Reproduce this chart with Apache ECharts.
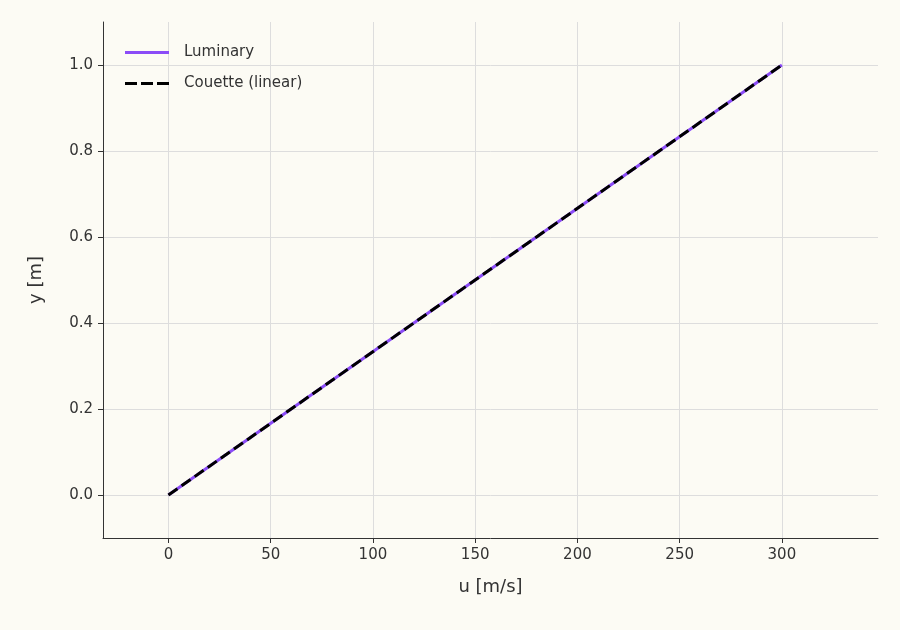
<!DOCTYPE html>
<html><head><meta charset="utf-8">
<script src="https://cdn.jsdelivr.net/npm/echarts@6/dist/echarts.min.js"></script>
<style>html,body{margin:0;background:#fcfbf4}#c{width:900px;height:630px}</style>
</head><body><div id="c"></div>
<script>
const yVals = [0,0.1,0.2,0.3,0.4,0.5,0.6,0.7,0.8,0.9,1.0];
const luminaryU = [0,30,60,90,120,150,180,210,240,270,300];
const couetteU = [0,30,60,90,120,150,180,210,240,270,300];
const xTicks = [0,50,100,150,200,250,300];
const yTicks = [0,0.2,0.4,0.6,0.8,1.0];
const F = 'DejaVu Sans';
const gridStyle = {color:'#dddddd', width:1, type:'solid'};
const marks = xTicks.map(v=>({xAxis:v})).concat(yTicks.map(v=>({yAxis:v})));
const chart = echarts.init(document.getElementById('c'));
chart.setOption({
  backgroundColor:'#fcfbf4',
  animation:false,
  grid:{left:103,right:22,top:22,bottom:92},
  legend:{left:120,top:40,orient:'vertical',itemWidth:44,itemHeight:10,itemGap:16,
    textStyle:{fontFamily:F,fontSize:15,color:'#333',padding:[0,0,0,10]},
    data:[{name:'Luminary',icon:'path://M0,4h44v3H0z'},{name:'Couette (linear)',icon:'path://M0,4h12v3H0zM16,4h12v3H16zM32,4h12v3H32z'}]},
  xAxis:{type:'value',min:-32,max:347,name:'u [m/s]',nameLocation:'middle',nameGap:40,
    nameTextStyle:{fontFamily:F,fontSize:18,color:'#333'},
    axisLine:{show:true,onZero:false,lineStyle:{color:'#333'}},
    axisTick:{show:true,customValues:xTicks,length:5,lineStyle:{color:'#333'}},
    axisLabel:{customValues:xTicks,fontFamily:F,fontSize:15,color:'#333',margin:10},
    splitLine:{show:false}},
  yAxis:{type:'value',min:-0.1,max:1.1,name:'y [m]',nameLocation:'middle',nameGap:58,
    nameTextStyle:{fontFamily:F,fontSize:18,color:'#333'},
    axisLine:{show:true,onZero:false,lineStyle:{color:'#333'}},
    axisTick:{show:true,customValues:yTicks,length:5,lineStyle:{color:'#333'}},
    axisLabel:{customValues:yTicks,formatter:v=>v.toFixed(1),fontFamily:F,fontSize:15,color:'#333',margin:10},
    splitLine:{show:false}},
  series:[
    {type:'line',name:'grid',data:[],silent:true,z:0,
     markLine:{symbol:'none',silent:true,z:0,label:{show:false},lineStyle:gridStyle,data:marks}},
    {type:'line',name:'Luminary',showSymbol:false,color:'#8b4cf7',lineStyle:{width:3,color:'#8b4cf7'},
     data:luminaryU.map((u,i)=>[u,yVals[i]])},
    {type:'line',name:'Couette (linear)',showSymbol:false,color:'#000',lineStyle:{width:3,color:'#000',type:[11,5]},
     data:couetteU.map((u,i)=>[u,yVals[i]])}
  ]
});
</script></body></html>
